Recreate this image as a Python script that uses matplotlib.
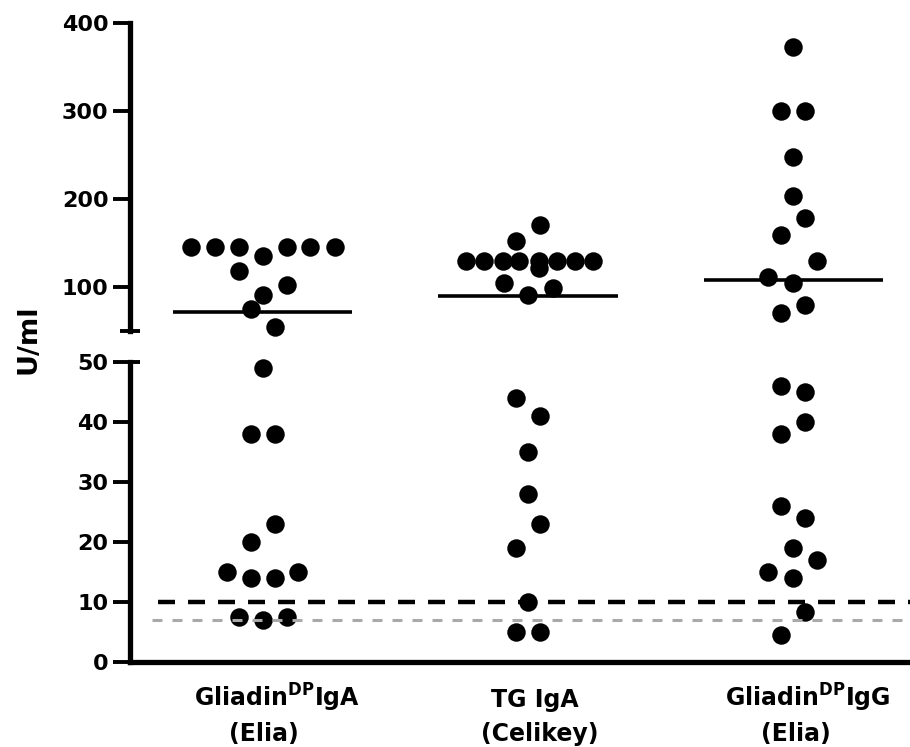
import numpy as np
import matplotlib
matplotlib.use("Agg")
import matplotlib.pyplot as plt
from matplotlib.transforms import blended_transform_factory

# gruppi e valori (U/ml)
riga1 = ["Gliadin$^{\\mathrm{DP}}$IgA", "TG IgA", "Gliadin$^{\\mathrm{DP}}$IgG"]
riga2 = ["(Elia)", "(Celikey)", "(Elia)"]

gliadin_iga = [146, 146, 146, 135, 146, 146, 146, 119, 103, 91, 75, 55, 49,
               38, 38, 23, 20, 15, 15, 14, 14, 7.4, 7, 7.4]
gliadin_iga_dx = [-0.271, -0.180, -0.090, 0, 0.090, 0.180, 0.271, -0.090, 0.090, 0,
                  -0.045, 0.045, 0, -0.045, 0.045, 0.045, -0.045, -0.135, 0.135,
                  -0.045, 0.045, -0.090, 0, 0.090]

tg_iga = [171, 153, 130, 130, 130, 130, 130, 130, 130, 130, 121.5, 105, 91, 99,
          44, 41, 35, 28, 23, 19, 10, 5, 5]
tg_iga_dx = [0.045, -0.045, -0.233, -0.165, -0.094, -0.034, 0.041, 0.109, 0.177, 0.244,
             0.041, -0.090, 0, 0.094, -0.045, 0.045, 0, 0, 0.045, -0.045, 0, -0.045, 0.045]

gliadin_igg = [373, 300, 300, 248, 203, 179, 159, 130, 112, 105, 80, 70.5,
               46, 45, 40, 38, 26, 24, 19, 17, 15, 14, 8.3, 4.4]
gliadin_igg_dx = [0, -0.045, 0.045, 0, 0, 0.045, -0.045, 0.090, -0.094, 0, 0.045, -0.045,
                  -0.045, 0.045, 0.045, -0.045, -0.045, 0.045, 0, 0.090, -0.094, 0, 0.045, -0.045]

medie = [72, 90, 108]      # linee orizzontali
cutoff = 10                # linea tratteggiata nera
cutoff2 = 7                # linea tratteggiata grigia

valori = [gliadin_iga, tg_iga, gliadin_igg]
spost = [gliadin_iga_dx, tg_iga_dx, gliadin_igg_dx]

plt.rcParams['font.family'] = 'DejaVu Sans'
plt.rcParams['font.weight'] = 'bold'
plt.rcParams['mathtext.fontset'] = 'dejavusans'
plt.rcParams['lines.scale_dashes'] = False

W, H = 910, 747
fig = plt.figure(figsize=(W/100, H/100), dpi=100)

def box(l, t, r, b):
    return [l/W, 1 - b/H, (r - l)/W, (b - t)/H]

ax_hi = fig.add_axes(box(130, 22.7, 910, 331))
ax_lo = fig.add_axes(box(130, 361.5, 910, 661.5))

taglio = 50.5
for ax in (ax_hi, ax_lo):
    ax.set_xlim(0.5, 3.44)
    ax.spines['top'].set_visible(False)
    ax.spines['right'].set_visible(False)
    for s in ax.spines.values():
        s.set_linewidth(3.8)
        s.set_capstyle('projecting')
    ax.tick_params(axis='y', length=12, width=2.8, pad=3.5, labelsize=16)
    ax.set_xticks([])
    ax.patch.set_alpha(0)

ax_hi.spines['bottom'].set_visible(False)
ax_hi.set_ylim(taglio, 400)
ax_hi.set_yticks([100, 200, 300, 400])

ax_lo.set_ylim(0, 50)
ax_lo.set_yticks(np.arange(0, 51, 10))

# punti
for i in range(3):
    v = np.array(valori[i])
    x = i + 1 + np.array(spost[i])
    alto = v >= taglio
    ax_hi.plot(x[alto], v[alto], 'o', color='black', ms=13.3, mew=0, clip_on=False, zorder=3)
    ax_lo.plot(x[~alto], v[~alto], 'o', color='black', ms=13.3, mew=0, clip_on=False, zorder=3)
    ax_hi.hlines(medie[i], i + 1 - 0.338, i + 1 + 0.338, color='black', lw=2.6, zorder=2)

# linee di cutoff
ax_lo.axhline(cutoff, xmin=15/780, xmax=1, color='black', lw=3.2,
              ls=(12.2, (12.2, 9.4)), zorder=2)
ax_lo.axhline(cutoff2, xmin=22/780, xmax=1, color='#a9a9a9', lw=2.2,
              ls=(0, (7.2, 7.2)), zorder=4)

# segni dell'interruzione dell'asse
mezzo = 10/780
t_hi = blended_transform_factory(ax_hi.transAxes, ax_hi.transData)
t_lo = blended_transform_factory(ax_lo.transAxes, ax_lo.transData)
ax_hi.plot([-mezzo, mezzo], [taglio, taglio], transform=t_hi, color='black', lw=2.8,
           clip_on=False, solid_capstyle='butt')
ax_lo.plot([0, mezzo], [50, 50], transform=t_lo, color='black', lw=2.8,
           clip_on=False, solid_capstyle='butt')

# etichette dei gruppi (due righe, posizionate a mano)
t_lab = blended_transform_factory(ax_lo.transData, fig.transFigure)
dx1 = [0.055, 0.027, 0.055]
dx2 = [0.004, 0.045, 0.008]
for i in range(3):
    ax_lo.text(i + 1 + dx1[i], 1 - 706.5/H, riga1[i], transform=t_lab, ha='center',
               va='baseline', fontsize=17, clip_on=False)
    ax_lo.text(i + 1 + dx2[i], 1 - 741/H, riga2[i], transform=t_lab, ha='center',
               va='baseline', fontsize=17, clip_on=False)

fig.text(29/W, 1 - 339/H, "U/ml", rotation=90, ha='center', va='center',
         fontsize=19.5, fontweight='bold')

fig.savefig("out.png", dpi=100)
